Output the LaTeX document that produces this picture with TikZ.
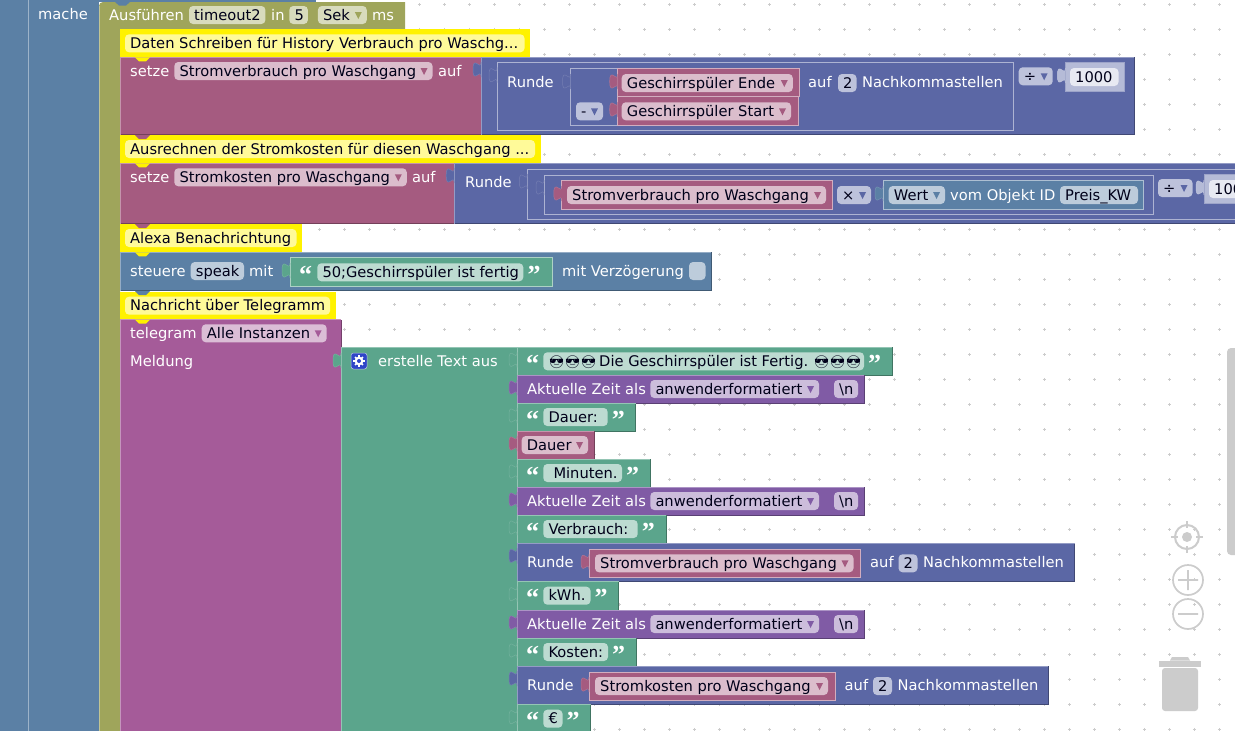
\documentclass[tikz,border=0pt]{standalone}
\usepackage{fontspec}
\setmainfont{DejaVu Sans}
\newfontfamily\emojifont{Noto Emoji}
\newfontfamily\quotefont{Liberation Serif}
\definecolor{cLogic}{HTML}{5B80A5}
\definecolor{cOlive}{HTML}{9FA55B}
\definecolor{cVar}{HTML}{A55B80}
\definecolor{cMath}{HTML}{5B67A5}
\definecolor{cText}{HTML}{5BA58C}
\definecolor{cTime}{HTML}{805BA5}
\definecolor{cTele}{HTML}{A55B99}
\definecolor{cHud}{HTML}{CCCCCC}
\definecolor{cGear}{HTML}{2F45C8}
\colorlet{cPale}{cMath!37!white}
\tikzset{
  lbl/.style={anchor=base west,inner sep=0pt,text=white,font=\fontsize{14.67}{16}\selectfont},
  fldtxt/.style={lbl,text=black!90!blue},
  qmark/.style={anchor=base west,inner sep=0pt,text depth=0pt,text=white,font=\quotefont\bfseries\fontsize{26}{26}\selectfont},
}
% block with light top/left and dark bottom/right edge
\newcommand{\blk}[5]{%
  \fill[#5] (#1,#2) rectangle (#3,#4);
  \draw[#5!70!black,line width=.8pt] (#1,#4) -- (#3,#4) -- (#3,#2);
  \draw[#5!65!white,line width=.8pt] (#1,#4) -- (#1,#2) -- (#3,#2);
}
% nested block, light edge all round
\newcommand{\oblk}[5]{\draw[fill=#5,draw=#5!50!white,line width=.8pt] (#1,#2) rectangle (#3,#4);}
% puzzle tab
\newcommand{\tabb}[3]{%
  \draw[fill=#3,draw=#3!85!white,line width=.5pt] (#1,#2) .. controls (#1,#2+10) and (#1-8,#2-8) .. (#1-8,#2+7.5)
    .. controls (#1-8,#2+23) and (#1,#2+5) .. (#1,#2+15);
}
% notch below a block
\newcommand{\notchb}[2]{\fill[#2] (135,#1) -- (139,#1+4) -- (146,#1+4) -- (150,#1) -- cycle;}
% field
\newcommand{\pill}[6]{%
  \fill[#5!40!white,rounded corners=4pt] (#2,#4) rectangle (#3,#4+18);
  \node[fldtxt] (#1) at (#2+5,#4+14) {#6};
}
\newcommand{\ddpill}[6]{%
  \pill{#1}{#2}{#3}{#4}{#5}{#6}
  \fill[#5] (#3-12,#4+6) -- (#3-5,#4+6) -- (#3-8.5,#4+13) -- cycle;
}
% comment
\newcommand{\cmt}[4]{%
  \fill[yellow] (120,#3) rectangle (#2,#3+28);
  \fill[yellow!40!white,rounded corners=4pt] (125,#3+5) rectangle (#2-5.5,#3+23);
  \node[fldtxt] (#1) at (130,#3+19.2) {#4};
}
% text row
\newcommand{\qrow}[6]{%
  \blk{517}{#2}{#4}{#3}{cText}
  \tabb{517}{#2+5}{cText}
  \node[qmark] (#1a) at (526,#2+25) {“};
  \pill{#1b}{543.3}{#5}{#2+5}{cText}{#6}
  \node[qmark] (#1c) at (#5+4,#2+25) {”};
}
\newcommand{\zeitrow}[2]{%
  \blk{517}{#2}{864}{#2+28}{cTime}
  \tabb{517}{#2+5}{cTime}
  \node[lbl] (#1a) at (527,#2+19) {Aktuelle Zeit als};
  \ddpill{#1b}{650.3}{819}{#2+5}{cTime}{anwenderformatiert}
  \pill{#1c}{834}{858}{#2+5}{cTime}{\textbackslash n}
}
\newcommand{\runderow}[6]{%
  \blk{517}{#2}{#3}{#2+38.5}{cMath}
  \tabb{517}{#2+5}{cMath}
  \node[lbl] (#1a) at (527,#2+24) {Runde};
  \oblk{589}{#2+6}{#4}{#2+34.5}{cVar}
  \tabb{589}{#2+11}{cVar}
  \ddpill{#1b}{595}{#4-7}{#2+11}{cVar}{#5}
  \node[lbl] (#1c) at (#4+9.5,#2+24) {auf};
  \pill{#1d}{#4+38}{#4+57}{#2+11}{cMath}{2}
  \node[lbl] (#1e) at (#4+62.5,#2+24) {Nachkommastellen};
}
\begin{document}
\begin{tikzpicture}[x=1pt,y=-1pt]
  \useasboundingbox (0,0) rectangle (1235,731);
  \clip (0,0) rectangle (1235,731);
  \fill[white] (0,0) rectangle (1235,731);
  % grid marks
  \foreach \gx in {19.3,44.3,...,1235} \foreach \gy in {4.3,29.3,...,731}
    {\draw[cHud,line width=.5pt] (\gx-1.5,\gy) -- (\gx+1.5,\gy) (\gx,\gy-1.5) -- (\gx,\gy+1.5);}
  % outer blocks
  \fill[cLogic] (0,0) rectangle (99,731);
  \fill[cLogic] (99,0) rectangle (316,1.5);
  \draw[cLogic!60!white,line width=.8pt] (28.3,0) -- (28.3,731);
  \node[lbl] (mache) at (38,19) {mache};
  \fill[cOlive] (99,731) -- (99,6) [rounded corners=4pt] -- (99,2) [sharp corners] -- (405,2) -- (405,29) -- (120,29) -- (120,731) -- cycle;
  \draw[cOlive!65!white,line width=.8pt] (99.4,731) -- (99.4,6);
  \fill[cLogic] (115,2) -- (119,5.5) -- (126,5.5) -- (130,2) -- cycle;
  \node[lbl] (ausf) at (109,20) {Ausführen};
  \pill{tname}{189}{265.4}{6}{cOlive}{timeout2}
  \node[lbl] (tin) at (271,20) {in};
  \pill{tval}{289.3}{307.9}{6}{cOlive}{5}
  \ddpill{tunit}{317.9}{366.8}{6}{cOlive}{Sek}
  \node[lbl] (tms) at (372,20) {ms};
  % History
  \cmt{c1}{530}{29.3}{Daten Schreiben für History Verbrauch pro Waschg...}
  \blk{120}{57.3}{481}{134.7}{cVar}
  \node[lbl] (s1) at (130,76) {setze};
  \ddpill{s1v}{174.3}{432.5}{62}{cVar}{Stromverbrauch pro Waschgang}
  \node[lbl] (s1a) at (438,76) {auf};
  \blk{481}{57.3}{1134}{134.7}{cMath}
  \tabb{481}{62}{cMath}
  \oblk{497}{62.7}{1013.6}{130.3}{cMath}
  \tabb{497}{67.7}{cMath}
  \node[lbl] (r1) at (507,87) {Runde};
  \oblk{570.5}{68.7}{617.7}{125.3}{cMath}
  \tabb{570.5}{74}{cMath}
  \ddpill{r1m}{576}{603}{102.3}{cMath}{-}
  \oblk{617.7}{68.7}{799}{96.7}{cVar}
  \tabb{617.7}{74}{cVar}
  \ddpill{r1e}{621.7}{792.8}{74}{cVar}{Geschirrspüler Ende}
  \oblk{617.7}{96.7}{798}{125.3}{cVar}
  \tabb{617.7}{102}{cVar}
  \ddpill{r1s}{621.7}{791}{102.3}{cVar}{Geschirrspüler Start}
  \node[lbl] (r1a) at (808,87) {auf};
  \pill{r1d}{838}{856.5}{74}{cMath}{2}
  \node[lbl] (r1n) at (862,87) {Nachkommastellen};
  \ddpill{r1o}{1018.7}{1052.7}{67.3}{cMath}{÷}
  \draw[fill=cMath!45!white,draw=cMath!60!white,line width=.8pt] (1065.4,62.7) rectangle (1124,91.3);
  \tabb{1065.4}{68}{cMath!45!white}
  \pill{r1t}{1070}{1118.5}{68}{cPale}{1000}
  % Kosten
  \cmt{c2}{540.5}{135}{Ausrechnen der Stromkosten für diesen Waschgang ...}
  \blk{120}{163.3}{454.2}{223.7}{cVar}
  \node[lbl] (s2) at (130,182) {setze};
  \ddpill{s2v}{174.3}{406.8}{168.3}{cVar}{Stromkosten pro Waschgang}
  \node[lbl] (s2a) at (412,182) {auf};
  \blk{454.2}{163.3}{1240}{223.7}{cMath}
  \tabb{454.2}{168}{cMath}
  \node[lbl] (r2) at (465,187) {Runde};
  \oblk{527.3}{169.3}{1240}{219.3}{cMath}
  \tabb{527.3}{174}{cMath}
  \oblk{544}{175}{1153}{214.3}{cMath}
  \tabb{544}{180}{cMath}
  \oblk{561.8}{180.7}{832.4}{209.3}{cVar}
  \tabb{561.8}{186}{cVar}
  \ddpill{r2v}{567}{826}{186}{cVar}{Stromverbrauch pro Waschgang}
  \ddpill{r2x}{837}{871}{186}{cMath}{×}
  \oblk{883}{180.7}{1143}{209.3}{cLogic}
  \tabb{883}{186}{cLogic}
  \ddpill{r2w}{888.7}{945}{186}{cLogic}{Wert}
  \node[lbl] (r2o) at (950,200) {vom Objekt ID};
  \pill{r2p}{1060}{1138}{186}{cLogic}{Preis\_KW}
  \ddpill{r2q}{1158}{1192.5}{179}{cMath}{÷}
  \draw[fill=cMath!45!white,draw=cMath!60!white,line width=.8pt] (1204,174.7) rectangle (1262,203.3);
  \tabb{1204}{180}{cMath!45!white}
  \pill{r2t}{1209}{1257}{180}{cPale}{1000}
  % Alexa
  \cmt{c3}{302}{224}{Alexa Benachrichtung}
  \blk{120}{252.3}{711}{290.7}{cLogic}
  \node[lbl] (a1) at (130,276) {steuere};
  \pill{a1s}{190.7}{244}{262}{cLogic}{speak}
  \node[lbl] (a1m) at (249,276) {mit};
  \oblk{290}{257.7}{552.3}{286.3}{cText}
  \tabb{290}{263}{cText}
  \node[qmark] (a1q) at (299,283) {“};
  \pill{a1t}{317.3}{523.3}{263.3}{cText}{50;Geschirrspüler ist fertig}
  \node[qmark] (a1r) at (527.5,283) {”};
  \node[lbl] (a1v) at (562,276) {mit Verzögerung};
  \fill[cLogic!40!white,rounded corners=4pt] (689,262) rectangle (705.5,280);
  % Telegram
  \cmt{c4}{335.6}{291.7}{Nachricht über Telegramm}
  \blk{120}{319.5}{341}{735}{cTele}
  \node[lbl] (t1) at (130,338) {telegram};
  \ddpill{t1i}{201.7}{326.7}{324.3}{cTele}{Alle Instanzen}
  \node[lbl] (t1m) at (130,366) {Meldung};
  \blk{341}{347.3}{517}{735}{cText}
  \tabb{341}{353}{cText}
  \draw[fill=cGear,draw=white!60!cLogic,rounded corners=2.5pt,line width=.5pt] (351,353) rectangle (367,369);
  \foreach \ang in {0,45,...,315} {\draw[white,line width=1.6pt] (359,361) -- ++(\ang:5.6);}
  \fill[white] (359,361) circle[radius=4.4];
  \fill[cGear] (359,361) circle[radius=2];
  \node[lbl] (t2) at (378,366) {erstelle Text aus};
  % text rows
  \blk{517}{347.3}{892}{375}{cText}
  \tabb{517}{352.3}{cText}
  \node[qmark] (q1a) at (526,372.3) {“};
  \fill[cText!40!white,rounded corners=4pt] (543.3,352.3) rectangle (864,370.3);
  \node[fldtxt,font=\fontsize{12.6}{16}\emojifont] (q1b) at (548.5,366.3) {😎😎😎};
  \node[fldtxt] (q1c) at (599,366.3) {Die Geschirrspüler ist Fertig.};
  \node[fldtxt,font=\fontsize{12.6}{16}\emojifont] (q1d) at (813.5,366.3) {😎😎😎};
  \node[qmark] (q1e) at (868,372.3) {”};
  \zeitrow{z1}{375}
  \qrow{q3}{403}{431}{635.7}{607.7}{Dauer:}
  \blk{517}{431}{594}{459}{cVar}
  \tabb{517}{436}{cVar}
  \ddpill{q4}{521.7}{588}{436}{cVar}{Dauer}
  \qrow{q5}{459}{487}{650}{622}{\hspace*{5pt}Minuten.}
  \zeitrow{z2}{487}
  \qrow{q7}{515}{543.3}{666}{637.7}{Verbrauch:}
  \runderow{u1}{543.3}{1074.6}{860.5}{Stromverbrauch pro Waschgang}{}
  \qrow{q9}{581.7}{610}{618.7}{590.5}{kWh.}
  \zeitrow{z3}{610}
  \qrow{q11}{638}{666}{636}{608}{Kosten:}
  \runderow{u2}{666}{1048}{835}{Stromkosten pro Waschgang}{}
  \qrow{q13}{704.7}{733}{590.7}{562.5}{€}
  % notches
  \notchb{57.3}{yellow}
  \notchb{135}{cVar}
  \notchb{163.3}{yellow}
  \notchb{224}{cVar}
  \notchb{252.3}{yellow}
  \notchb{291}{cLogic}
  \notchb{319.7}{yellow}
  % workspace controls
  \draw[cHud,line width=2pt] (1187,537) circle[radius=12];
  \fill[cHud] (1187,537) circle[radius=5];
  \draw[cHud,line width=2pt] (1187,521) -- (1187,528) (1187,546) -- (1187,553) (1171,537) -- (1178,537) (1196,537) -- (1203,537);
  \draw[cHud,line width=1.7pt] (1188,580) circle[radius=15] (1178,580) -- (1198,580) (1188,570) -- (1188,590);
  \draw[cHud,line width=1.7pt] (1188,614) circle[radius=15] (1178,614) -- (1198,614);
  \fill[cHud,rounded corners=3pt] (1162,668) rectangle (1198,711);
  \fill[cHud] (1159,660.5) rectangle (1201,666.5);
  \fill[cHud] (1170,660.5) -- (1172,657) -- (1188,657) -- (1190,660.5) -- cycle;
  \fill[cHud,rounded corners=4pt] (1227,348) rectangle (1240,555);
\end{tikzpicture}
\end{document}
